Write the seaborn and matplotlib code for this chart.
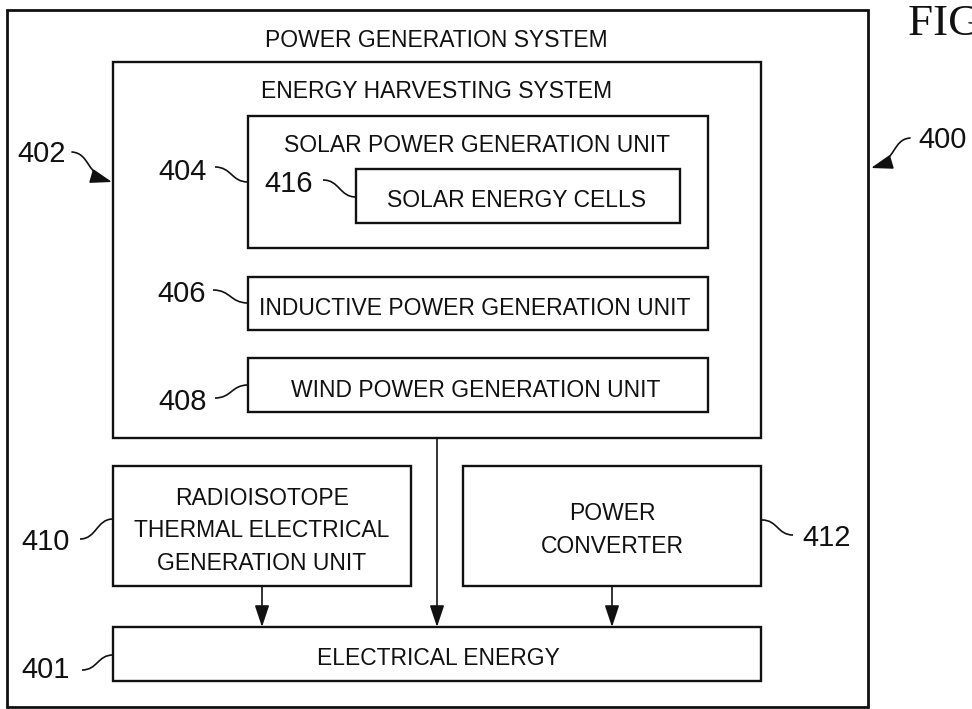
import matplotlib
matplotlib.use("Agg")
import matplotlib.pyplot as plt
from matplotlib import font_manager
from matplotlib.patches import Rectangle, FancyArrowPatch, PathPatch
from matplotlib.path import Path
import seaborn as sns

# block texts (one entry per box)
box_names = ["outer", "harvest", "solar", "cells", "inductive", "wind",
             "radio", "converter", "electrical"]
box_texts = [["POWER GENERATION SYSTEM"],
             ["ENERGY HARVESTING SYSTEM"],
             ["SOLAR POWER GENERATION UNIT"],
             ["SOLAR ENERGY CELLS"],
             ["INDUCTIVE POWER GENERATION UNIT"],
             ["WIND POWER GENERATION UNIT"],
             ["RADIOISOTOPE", "THERMAL ELECTRICAL", "GENERATION UNIT"],
             ["POWER", "CONVERTER"],
             ["ELECTRICAL ENERGY"]]

# reference numerals
ref_numbers = ["400", "402", "404", "416", "406", "408", "410", "401", "412"]
ref_arrowed = [True, True, False, False, False, False, False, False, False]

# which boxes feed "ELECTRICAL ENERGY"
flow_sources = ["radio", "harvest", "converter"]

# ---- layout (pixel space, y down) ----
box_rect = {
    "outer": (7, 10, 868, 707),
    "harvest": (113, 62, 761, 438),
    "solar": (248, 116, 708, 248),
    "cells": (356, 169, 680, 223),
    "inductive": (248, 277, 708, 330),
    "wind": (248, 358, 708, 412),
    "radio": (113, 466, 411, 586),
    "converter": (463, 466, 761, 586),
    "electrical": (113, 627, 761, 681),
}
text_anchor = {
    "outer": (436, [37]),
    "harvest": (437, [88]),
    "solar": (477, [142]),
    "cells": (516, [197]),
    "inductive": (475, [305]),
    "wind": (476, [387]),
    "radio": (262, [495, 527, 560]),
    "converter": (612, [510, 543]),
    "electrical": (438, [655]),
}
num_pos = [(943, 137), (42, 151), (183, 170), (289, 182), (182, 291),
           (183, 399), (46, 539), (46, 668), (827, 535)]
leader = [((910, 138), (871, 168)), ((72, 152), (112, 182)),
          ((215, 167), (248, 182)), ((323, 180), (356, 197)),
          ((213, 290), (248, 303)), ((215, 398), (248, 385)),
          ((80, 539), (113, 519)), ((82, 670), (113, 655)),
          ((762, 520), (793, 535))]
flow_x = {"radio": 262, "harvest": 437, "converter": 612}

sns.set_theme(style="white")
installed = {f.name for f in font_manager.fontManager.ttflist}
if "Liberation Sans Narrow" in installed:
    box_font, box_size = "Liberation Sans Narrow", 20
else:
    box_font, box_size = "Liberation Sans", 16.5
plt.rcParams["font.family"] = ["Liberation Sans", "DejaVu Sans"]

fig = plt.figure(figsize=(9.72, 7.09), dpi=100)
ax = fig.add_axes([0, 0, 1, 1])
ax.set_xlim(0, 972)
ax.set_ylim(709, 0)
ax.axis("off")

ink = "#111111"
head = "-|>,head_length=0.6,head_width=0.2"

for name, lines in zip(box_names, box_texts):
    x0, y0, x1, y1 = box_rect[name]
    lw = 2.0 if name == "outer" else 1.7
    ax.add_patch(Rectangle((x0, y0), x1 - x0, y1 - y0, fill=False,
                           ec=ink, lw=lw))
    cx, ys = text_anchor[name]
    for line, yc in zip(lines, ys):
        ax.text(cx, yc + 10, line, ha="center", va="baseline",
                family=box_font, fontsize=box_size, color=ink)


def s_curve(p0, p1):
    # tilde-shaped leader, flat at both ends
    (x0, y0), (x1, y1) = p0, p1
    xm = (x0 + x1) / 2
    return Path([(x0, y0), (xm, y0), (xm, y1), (x1, y1)],
                [Path.MOVETO, Path.CURVE4, Path.CURVE4, Path.CURVE4])


def hook_curve(p0, p1):
    # leader that bends and ends pointing diagonally onto the frame
    (x0, y0), (x1, y1) = p0, p1
    dx, dy = x1 - x0, y1 - y0
    c1 = (x0 + 0.45 * dx, y0 + 0.05 * dy)
    c2 = (x0 + 0.35 * dx, y0 + 0.75 * dy)
    return Path([(x0, y0), c1, c2, (x1, y1)],
                [Path.MOVETO, Path.CURVE4, Path.CURVE4, Path.CURVE4])


for num, (px, py), (p0, p1), arrowed in zip(ref_numbers, num_pos, leader, ref_arrowed):
    ax.text(px, py + 10.5, num, ha="center", va="baseline",
            fontsize=21, color=ink)
    if arrowed:
        ax.add_patch(FancyArrowPatch(path=hook_curve(p0, p1), arrowstyle=head,
                                     mutation_scale=22, color=ink, lw=1.2,
                                     shrinkA=0, shrinkB=0))
    else:
        ax.add_patch(PathPatch(s_curve(p0, p1), fill=False, ec=ink, lw=1.2))

target_top = box_rect["electrical"][1]
for src in flow_sources:
    x = flow_x[src]
    ax.annotate("", xy=(x, target_top), xytext=(x, box_rect[src][3]),
                arrowprops=dict(arrowstyle=head, color=ink, lw=1.2,
                                mutation_scale=22, shrinkA=0, shrinkB=0))

ax.text(908, 35, "FIG. 4", ha="left", va="baseline",
        family=["Liberation Serif", "DejaVu Serif"], fontsize=32.5, color=ink)

fig.savefig("out.png", dpi=100, facecolor="white")
